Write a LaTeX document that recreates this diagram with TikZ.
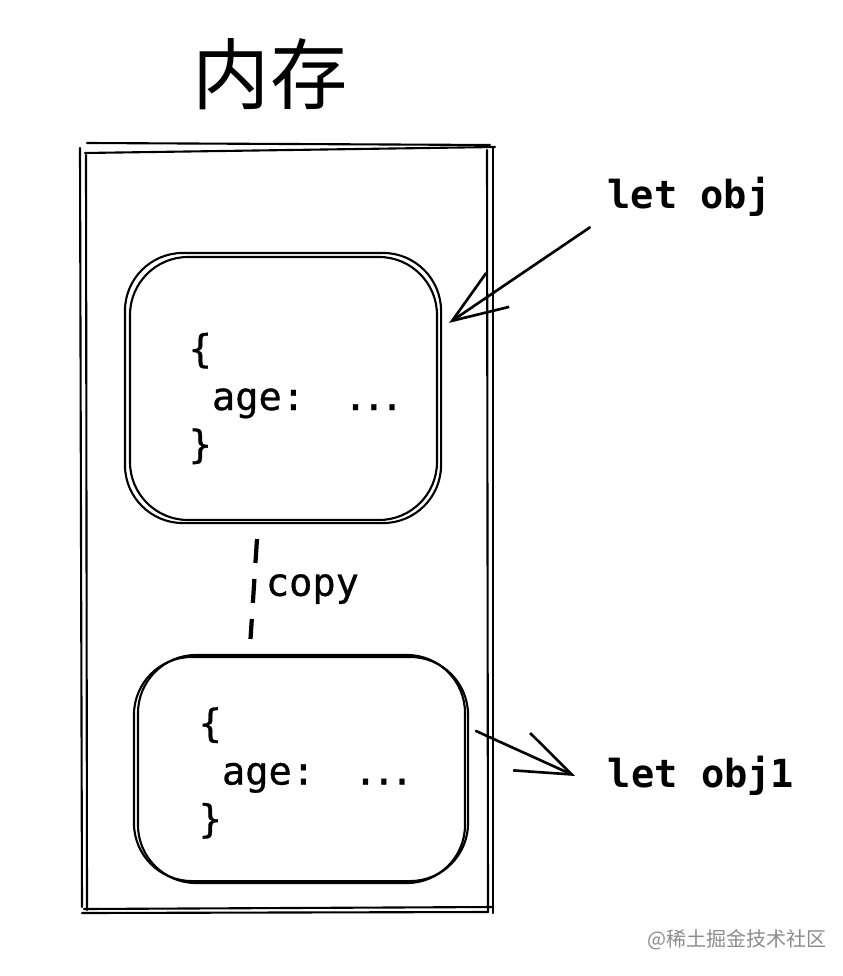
\documentclass[tikz,border=0pt]{standalone}
\usepackage{fontspec}
\setmonofont{DejaVu Sans Mono}
\newfontfamily\codefont{DejaVu Sans Mono}[FakeBold=0.8]
\newfontfamily\cjk{Noto Sans CJK SC}
\usetikzlibrary{arrows.meta,positioning}

\newcommand{\agedots}{.\kern-0.13em.\kern-0.13em.}

\begin{document}
\begin{tikzpicture}[
    sketch/.style={line width=0.6pt, line cap=round},
    membox/.style={sketch, draw, rounded corners=0.58cm},
    codetext/.style={align=left, anchor=west, inner sep=0pt,
      font=\codefont\fontsize{11}{13.6}\selectfont},
    varlabel/.style={font=\ttfamily\bfseries\fontsize{11}{13}\selectfont, inner sep=0pt},
    refarrow/.style={line width=0.75pt, line cap=round,
      -{Straight Barb[length=0.55cm, width=0.41cm, line width=0.75pt]}},
    copyline/.style={line width=1.2pt, dash pattern=on 0.24cm off 0.16cm}
  ]
  \useasboundingbox (0,0) rectangle (8.42,-9.76);

  \node[font=\cjk\fontsize{22}{26}\selectfont] (title) at (2.70,-0.74) {内存};

  % memory frame, every side drawn twice
  \draw[sketch] (0.87,-1.43) -- (4.90,-1.45);
  \draw[sketch] (0.85,-1.53) -- (4.95,-1.47);
  \draw[sketch] (0.80,-1.48) -- (0.82,-9.07);
  \draw[sketch] (0.86,-1.55) -- (0.87,-9.10);
  \draw[sketch] (4.87,-1.50) -- (4.88,-9.12);
  \draw[sketch] (4.93,-1.48) -- (4.93,-9.13);
  \draw[sketch] (0.82,-9.13) -- (4.88,-9.12);
  \draw[sketch] (0.84,-9.09) -- (4.93,-9.07);

  \node[membox, minimum width=3.07cm, minimum height=2.63cm] (obj) at (2.835,-3.885) {};
  \draw[sketch, rounded corners=0.58cm] ([shift={(-0.04,0.03)}]obj.north west)
    rectangle ([shift={(0.03,-0.02)}]obj.south east);
  \node[codetext] (objtext) at (1.88,-3.985) {\{\\\ age:\ \ \kern-0.2em\agedots\\\}};

  \node[membox, minimum width=3.27cm, minimum height=2.28cm] (objcopy) at (3.015,-7.69) {};
  \draw[sketch, rounded corners=0.58cm] ([shift={(-0.03,-0.03)}]objcopy.north west)
    rectangle ([shift={(0.02,0.03)}]objcopy.south east);
  \node[codetext] (objcopytext) at (1.98,-7.73) {\{\\\ age:\ \ \kern-0.2em\agedots\\\}};

  \draw[copyline] ([xshift=-0.265cm,yshift=-0.18cm]obj.south)
    -- node[midway, right=0.1cm, inner sep=0pt, font=\codefont\fontsize{11}{13}\selectfont] (copylabel) {copy}
    ([xshift=-0.51cm,yshift=0.15cm]objcopy.north);

  \node[varlabel] (lobj) at (6.89,-1.97) {let obj};
  \node[varlabel] (lobjone) at (7.01,-7.76) {let obj1};

  \draw[refarrow] ([xshift=-0.17cm,yshift=-0.10cm]lobj.south west) -- ([xshift=0.11cm]obj.23);
  \draw[refarrow] ([xshift=0.10cm]objcopy.13) -- ([xshift=-0.32cm]lobjone.west);

  \node[font=\cjk\fontsize{5.7}{7}\selectfont, text=black!45] (mark) at (7.37,-9.40) {@稀土掘金技术社区};
\end{tikzpicture}
\end{document}
